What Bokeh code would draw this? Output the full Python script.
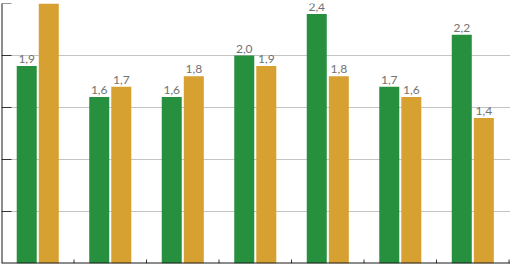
import math
from bokeh.plotting import figure
from bokeh.models import ColumnDataSource, FixedTicker, Range1d, LabelSet, Span
from bokeh.core.properties import value
from bokeh.embed import file_html
from bokeh.resources import INLINE

# data
groups = ["1", "2", "3", "4", "5", "6", "7"]
green_values = [1.9, 1.6, 1.6, 2.0, 2.4, 1.7, 2.2]
gold_values = [2.6, 1.7, 1.8, 1.9, 1.8, 1.6, 1.4]
y_ticks = [0.5, 1.0, 1.5, 2.0, 2.5]
y_max = 2.5

GREEN = "#26903f"
GOLD = "#d6a131"
AXIS = "#1a1a1a"

def fmt(v):
    return f"{v:.1f}".replace(".", ",")

idx = list(range(len(groups)))
gx = [i + 0.5 - 0.152 for i in idx]
ox = [i + 0.5 + 0.152 for i in idx]
src_green = ColumnDataSource(dict(x=gx, top=green_values))
src_gold = ColumnDataSource(dict(x=ox, top=gold_values))

# labels only for bars whose top lies inside the plot (as in the reference)
lab_x, lab_y, lab_t = [], [], []
for xs, vs in ((gx, green_values), (ox, gold_values)):
    for x, v in zip(xs, vs):
        if v <= y_max:
            lab_x.append(x)
            lab_y.append(v)
            lab_t.append(fmt(v))
src_lab = ColumnDataSource(dict(x=lab_x, y=lab_y, t=lab_t))

p = figure(width=510, height=266, output_backend="svg", toolbar_location=None,
           x_range=Range1d(0, len(groups) + 0.02), y_range=Range1d(0, y_max),
           min_border_left=1, min_border_right=0, min_border_top=3,
           min_border_bottom=3)
p.outline_line_color = None
p.background_fill_color = "white"
p.axis.visible = False

p.xgrid.visible = False
p.ygrid.ticker = FixedTicker(ticks=y_ticks)
p.ygrid.grid_line_color = "#c4c4c4"
p.ygrid.grid_line_width = 1

p.vbar(x="x", top="top", width=0.276, bottom=0, source=src_green,
       fill_color=GREEN, line_color=None)
p.vbar(x="x", top="top", width=0.276, bottom=0, source=src_gold,
       fill_color=GOLD, line_color=None)

# axis lines and inward ticks
p.add_layout(Span(location=0, dimension="height", line_color=AXIS, line_width=2))
p.add_layout(Span(location=0, dimension="width", line_color=AXIS, line_width=2))
p.ray(x=[0] * len(y_ticks), y=y_ticks, length=10, length_units="screen",
      angle=0, line_color="#333333", line_width=1)
x_ticks = list(range(1, len(groups) + 1))
p.ray(x=x_ticks, y=[0] * len(x_ticks), length=4, length_units="screen",
      angle=math.pi / 2, line_color="#333333", line_width=1)

labels = LabelSet(x="x", y="y", text="t", source=src_lab, text_align="center",
                  text_baseline="bottom", y_offset=3, text_font=value("Lato"),
                  text_font_size="12px", text_color="#727272")
p.add_layout(labels)

open("out.html", "w").write(file_html(p, INLINE))
